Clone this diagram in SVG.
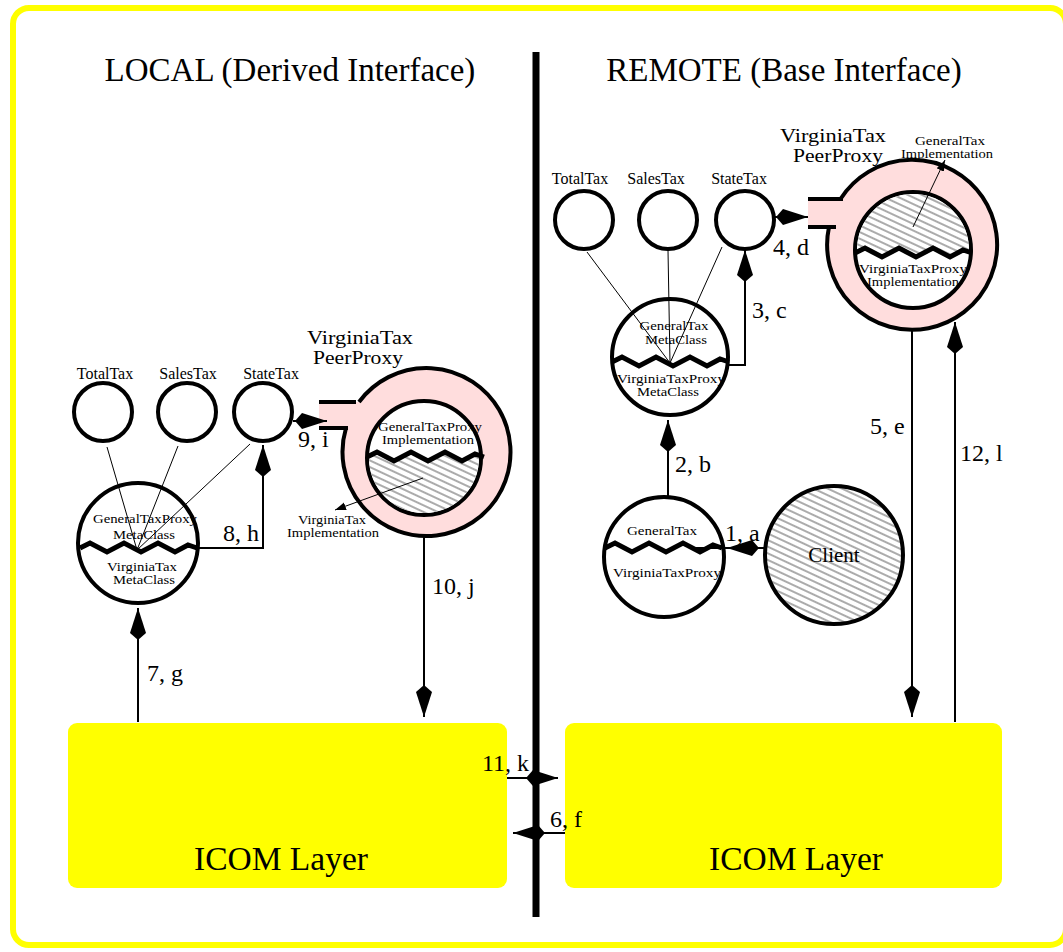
<svg xmlns="http://www.w3.org/2000/svg" width="1063" height="952" viewBox="0 0 1063 952">
<style>
text{font-family:"Liberation Serif","Times New Roman",serif;fill:#000}
.title{font-size:33px;text-anchor:middle}
.icom{font-size:33.5px;text-anchor:middle}
.lbl{font-size:24px}
.cl{font-size:16px;text-anchor:middle}
.pp{font-size:18.5px;text-anchor:middle}
.in{font-size:12.5px;text-anchor:middle}
.node{fill:#fff;stroke:#000;stroke-width:4}
.ring{fill:#ffdddd;stroke:none}
.ol{fill:none;stroke:#000;stroke-width:4}
.zig{fill:none;stroke:#000;stroke-width:5;stroke-linejoin:miter}
.thin{stroke:#000;stroke-width:1;fill:none}
.conn{stroke:#000;stroke-width:2;fill:none}
.box{fill:#ffff00}
</style>
<defs>
<pattern id="hatch" patternUnits="userSpaceOnUse" width="10" height="6" patternTransform="rotate(25)">
<rect width="10" height="6" fill="#fff"/>
<line x1="0" y1="3" x2="10" y2="3" stroke="#444" stroke-width="0.9"/>
</pattern>
<marker id="kite" markerUnits="userSpaceOnUse" markerWidth="34" markerHeight="18" refX="32" refY="9" orient="auto" viewBox="0 0 34 18">
<path d="M32,9 L7,1 L0,9 L7,17 Z" fill="#000"/>
</marker>
<marker id="tri" markerUnits="userSpaceOnUse" markerWidth="12" markerHeight="10" refX="11" refY="5" orient="auto" viewBox="0 0 12 10">
<path d="M11,5 L0,1 L0,9 Z" fill="#000"/>
</marker>
<clipPath id="clipR"><path d="M855,253 l10,-5 l17,9 l17,-9 l17,9 l17,-9 l17,9 l13,-7 l9,3 L985,253 L985,180 L845,180 L845,253 Z"/></clipPath>
<clipPath id="clipL"><path d="M367,457 l10,-5 l17,9 l17,-9 l17,9 l17,-9 l17,9 l13,-7 l9,3 L495,457 L495,525 L355,525 L355,457 Z"/></clipPath>
</defs>

<rect x="13" y="8" width="1053" height="937" rx="16" fill="#fff" stroke="#ffff00" stroke-width="6"/>

<text class="title" x="290" y="81">LOCAL (Derived Interface)</text>
<text class="title" x="784" y="81">REMOTE (Base Interface)</text>

<line x1="536" y1="52" x2="536" y2="917" stroke="#000" stroke-width="7"/>

<g id="icom-local">
<rect class="box" x="68" y="723" width="439" height="165" rx="9"/>
<text class="icom" x="281" y="870">ICOM Layer</text>
</g>
<g id="icom-remote">
<rect class="box" x="565" y="723" width="437" height="165" rx="9"/>
<text class="icom" x="796" y="870">ICOM Layer</text>
</g>

<!-- LOCAL side -->
<g id="l-totaltax">
<circle class="node" cx="103" cy="412" r="29"/>
<text class="cl" x="105" y="379">TotalTax</text>
</g>
<g id="l-salestax">
<circle class="node" cx="187" cy="412" r="29"/>
<text class="cl" x="188" y="379">SalesTax</text>
</g>
<g id="l-statetax">
<circle class="node" cx="263" cy="412" r="29"/>
<text class="cl" x="271" y="379">StateTax</text>
</g>
<g id="l-metaclass">
<circle class="node" cx="138" cy="543" r="60"/>
<line class="thin" x1="107" y1="447" x2="137" y2="550"/>
<line class="thin" x1="178" y1="446" x2="137" y2="550"/>
<line class="thin" x1="250" y1="444" x2="137" y2="550"/>
<path class="zig" d="M80,548 l10,-5 l17,9 l17,-9 l17,9 l17,-9 l17,9 l13,-7 l9,3"/>
<text class="in" x="145" y="523" textLength="104" lengthAdjust="spacingAndGlyphs">GeneralTaxProxy</text>
<text class="in" x="144" y="539" textLength="62" lengthAdjust="spacingAndGlyphs">MetaClass</text>
<text class="in" x="142" y="571" textLength="70" lengthAdjust="spacingAndGlyphs">VirginiaTax</text>
<text class="in" x="144" y="584" textLength="62" lengthAdjust="spacingAndGlyphs">MetaClass</text>
</g>
<g id="l-peerproxy">
<circle class="ring" cx="426" cy="453" r="84"/>
<rect class="ring" x="319" y="402" width="45" height="26"/>
<path class="ol" d="M359,402 A84,84 0 1 1 346,428"/>
<line x1="319" y1="402" x2="356" y2="402" stroke="#000" stroke-width="4"/>
<line x1="319" y1="428" x2="348" y2="428" stroke="#000" stroke-width="4"/>
<circle class="node" cx="424" cy="458" r="57"/>
<circle cx="424" cy="458" r="55" fill="url(#hatch)" clip-path="url(#clipL)"/>
<path class="zig" d="M367,457 l10,-5 l17,9 l17,-9 l17,9 l17,-9 l17,9 l13,-7 l9,3"/>
<text class="in" x="430" y="431" textLength="104" lengthAdjust="spacingAndGlyphs">GeneralTaxProxy</text>
<text class="in" x="428" y="444" textLength="92" lengthAdjust="spacingAndGlyphs">Implementation</text>
<line class="thin" x1="423" y1="478" x2="335" y2="510" marker-end="url(#tri)"/>
<text class="in" x="332" y="524" textLength="68" lengthAdjust="spacingAndGlyphs">VirginiaTax</text>
<text class="in" x="333" y="537" textLength="92" lengthAdjust="spacingAndGlyphs">Implementation</text>
<text class="pp" x="360" y="344" textLength="106" lengthAdjust="spacingAndGlyphs">VirginiaTax</text>
<text class="pp" x="358" y="364" textLength="90" lengthAdjust="spacingAndGlyphs">PeerProxy</text>
</g>

<!-- REMOTE side -->
<g id="r-totaltax">
<circle class="node" cx="584" cy="220" r="29"/>
<text class="cl" x="580" y="184">TotalTax</text>
</g>
<g id="r-salestax">
<circle class="node" cx="668" cy="220" r="29"/>
<text class="cl" x="656" y="184">SalesTax</text>
</g>
<g id="r-statetax">
<circle class="node" cx="745" cy="220" r="29"/>
<text class="cl" x="739" y="184">StateTax</text>
</g>
<g id="r-metaclass">
<circle class="node" cx="670" cy="357" r="58"/>
<line class="thin" x1="587" y1="252" x2="670" y2="363"/>
<line class="thin" x1="668" y1="250" x2="670" y2="363"/>
<line class="thin" x1="722" y1="247" x2="670" y2="363"/>
<path class="zig" d="M612,362 l10,-5 l17,9 l17,-9 l17,9 l17,-9 l17,9 l13,-7 l9,3"/>
<text class="in" x="674" y="330" textLength="69" lengthAdjust="spacingAndGlyphs">GeneralTax</text>
<text class="in" x="676" y="344" textLength="62" lengthAdjust="spacingAndGlyphs">MetaClass</text>
<text class="in" x="671" y="383" textLength="108" lengthAdjust="spacingAndGlyphs">VirginiaTaxProxy</text>
<text class="in" x="668" y="396" textLength="62" lengthAdjust="spacingAndGlyphs">MetaClass</text>
</g>
<g id="r-peerproxy">
<circle class="ring" cx="912" cy="245" r="85"/>
<rect class="ring" x="808" y="199" width="45" height="28"/>
<path class="ol" d="M840.5,199 A85,85 0 1 1 829,227"/>
<line x1="808" y1="199" x2="843" y2="199" stroke="#000" stroke-width="4"/>
<line x1="808" y1="227" x2="836" y2="227" stroke="#000" stroke-width="4"/>
<circle class="node" cx="913" cy="250" r="58"/>
<circle cx="913" cy="250" r="56" fill="url(#hatch)" clip-path="url(#clipR)"/>
<path class="zig" d="M855,253 l10,-5 l17,9 l17,-9 l17,9 l17,-9 l17,9 l13,-7 l9,3"/>
<text class="in" x="913" y="273" textLength="108" lengthAdjust="spacingAndGlyphs">VirginiaTaxProxy</text>
<text class="in" x="913" y="286" textLength="92" lengthAdjust="spacingAndGlyphs">Implementation</text>
<line class="thin" x1="913" y1="227" x2="945" y2="160" marker-end="url(#tri)"/>
<text class="in" x="950" y="145" textLength="70" lengthAdjust="spacingAndGlyphs">GeneralTax</text>
<text class="in" x="947" y="158" textLength="92" lengthAdjust="spacingAndGlyphs">Implementation</text>
<text class="pp" x="833" y="142" textLength="106" lengthAdjust="spacingAndGlyphs">VirginiaTax</text>
<text class="pp" x="838" y="162" textLength="90" lengthAdjust="spacingAndGlyphs">PeerProxy</text>
</g>
<g id="r-generaltax">
<circle class="node" cx="664" cy="557" r="60"/>
<path class="zig" d="M605,548 l10,-5 l17,9 l17,-9 l17,9 l17,-9 l17,9 l13,-7 l9,3"/>
<line x1="690" y1="548" x2="730" y2="548" stroke="#000" stroke-width="2"/>
<text class="in" x="662" y="535" textLength="70" lengthAdjust="spacingAndGlyphs">GeneralTax</text>
<text class="in" x="667" y="577" textLength="108" lengthAdjust="spacingAndGlyphs">VirginiaTaxProxy</text>
</g>
<g id="r-client">
<circle cx="834" cy="555" r="69" fill="url(#hatch)" stroke="#000" stroke-width="4"/>
<text x="834" y="562" style="font-size:21px;text-anchor:middle">Client</text>
</g>

<g id="connectors">
<path class="conn" d="M765,548 L727,548" marker-end="url(#kite)"/>
<path class="conn" d="M668,498 L668,420" marker-end="url(#kite)"/>
<path class="conn" d="M728,365 L745,365 L745,250" marker-end="url(#kite)"/>
<path class="conn" d="M775,217 L808,217" marker-end="url(#kite)"/>
<path class="conn" d="M912,330 L912,717" marker-end="url(#kite)"/>
<path class="conn" d="M565,833 L513,833" marker-end="url(#kite)"/>
<path class="conn" d="M138,722 L138,608" marker-end="url(#kite)"/>
<path class="conn" d="M197,548 L263,548 L263,445" marker-end="url(#kite)"/>
<path class="conn" d="M293,421 L327,421" marker-end="url(#kite)"/>
<path class="conn" d="M424,537 L424,717" marker-end="url(#kite)"/>
<path class="conn" d="M507,778 L558,778" marker-end="url(#kite)"/>
<path class="conn" d="M955,722 L955,322" marker-end="url(#kite)"/>
<text class="lbl" x="725" y="541">1, a</text>
<text class="lbl" x="675" y="472">2, b</text>
<text class="lbl" x="752" y="318">3, c</text>
<text class="lbl" x="773" y="255">4, d</text>
<text class="lbl" x="870" y="434">5, e</text>
<text class="lbl" x="550" y="827">6, f</text>
<text class="lbl" x="147" y="681">7, g</text>
<text class="lbl" x="223" y="541">8, h</text>
<text class="lbl" x="298" y="447">9, i</text>
<text class="lbl" x="432" y="594">10, j</text>
<text class="lbl" x="482" y="771">11, k</text>
<text class="lbl" x="960" y="461">12, l</text>
</g>
</svg>
